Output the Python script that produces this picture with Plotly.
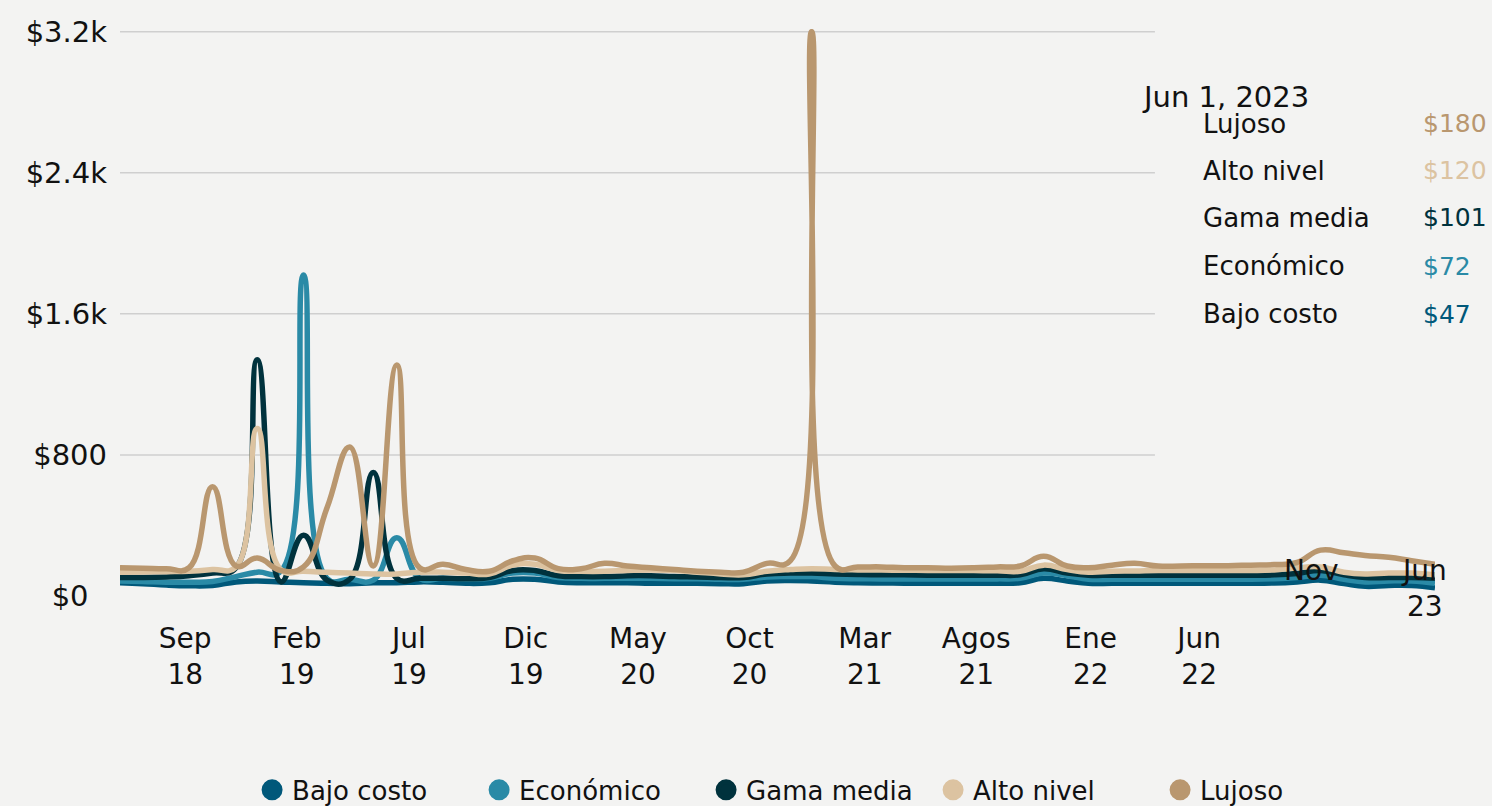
import plotly.graph_objects as go
import pandas as pd

# ---------------- data ----------------
DATES = pd.date_range("2018-09-01", periods=58, freq="MS")

NAMES = ["Bajo costo", "Económico", "Gama media", "Alto nivel", "Lujoso"]
COLORS = ["#00587a", "#2a8aa6", "#00323d", "#dcc3a1", "#b9976f"]

BAJO_COSTO = [75, 70, 62, 58, 60, 80, 85, 80, 75, 72,
              70, 75, 75, 80, 78, 72, 75, 95, 95, 80,
              75, 75, 75, 72, 72, 72, 70, 70, 85, 88,
              85, 78, 75, 74, 73, 72, 72, 72, 72, 75,
              100, 85, 72, 72, 72, 72, 72, 72, 72, 72,
              74, 80, 90, 70, 55, 60, 60, 47]
ECONOMICO = [85, 82, 78, 78, 82, 110, 135, 140, 1820, 100,
             95, 90, 330, 100, 100, 95, 100, 130, 130, 105,
             100, 100, 100, 100, 98, 98, 95, 95, 108, 110,
             110, 100, 98, 97, 96, 96, 96, 96, 97, 100,
             130, 115, 95, 95, 95, 95, 95, 95, 95, 95,
             98, 105, 118, 95, 80, 85, 85, 72]
GAMA_MEDIA = [105, 105, 108, 115, 130, 160, 1340, 80, 345, 90,
              95, 700, 100, 100, 100, 98, 105, 145, 145, 115,
              110, 110, 115, 115, 110, 108, 105, 105, 125, 130,
              130, 125, 122, 120, 120, 118, 118, 118, 118, 120,
              155, 130, 118, 118, 118, 118, 118, 118, 118, 118,
              120, 128, 145, 120, 105, 105, 105, 101]
ALTO_NIVEL = [135, 136, 138, 140, 150, 165, 950, 150, 140, 135,
              130, 125, 125, 135, 135, 130, 125, 175, 180, 145,
              140, 140, 145, 148, 145, 135, 125, 120, 140, 150,
              155, 150, 148, 147, 146, 145, 145, 144, 143, 140,
              175, 150, 135, 140, 142, 145, 145, 145, 145, 145,
              148, 160, 165, 135, 125, 130, 130, 120]
LUJOSO = [160, 158, 155, 160, 620, 170, 215, 145, 165, 500,
          845, 170, 1310, 160, 180, 150, 140, 200, 215, 155,
          155, 185, 170, 160, 150, 140, 135, 135, 185, 200,
          3200, 170, 165, 165, 160, 160, 158, 160, 165, 170,
          225, 170, 160, 175, 185, 170, 170, 172, 172, 175,
          178, 190, 260, 245, 230, 220, 200, 180]

SERIES = [BAJO_COSTO, ECONOMICO, GAMA_MEDIA, ALTO_NIVEL, LUJOSO]

Y_TICKS = [0, 800, 1600, 2400, 3200]
Y_TICK_TEXT = ["$0\u00a0\u00a0", "$800", "$1.6k", "$2.4k", "$3.2k"]

X_TICK_DATES = ["2018-11-26", "2019-04-22", "2019-09-17", "2020-02-18", "2020-07-15",
                "2020-12-09", "2021-05-10", "2021-10-04", "2022-03-04", "2022-07-25"]
X_TICK_TEXT = ["Sep<br>18", "Feb<br>19", "Jul<br>19", "Dic<br>19", "May<br>20",
               "Oct<br>20", "Mar<br>21", "Agos<br>21", "Ene<br>22", "Jun<br>22"]
X_LATE_DATES = ["2022-12-20", "2023-05-18"]
X_LATE_TEXT = ["Nov<br>22", "Jun<br>23"]

TOOLTIP_DATE = "Jun 1, 2023"

FONT = "DejaVu Sans"
BG = "#f3f3f2"

fig = go.Figure()

for name, vals, color in zip(NAMES, SERIES, COLORS):
    fig.add_trace(go.Scatter(
        x=DATES, y=vals, mode="lines", name=name, showlegend=False,
        line=dict(color=color, width=5.5, shape="spline", smoothing=1.3),
        hoverinfo="skip"))

for name, color in zip(NAMES, COLORS):
    fig.add_trace(go.Scatter(
        x=[None], y=[None], mode="markers", name=name, showlegend=True,
        marker=dict(size=16, color=color, line=dict(color=color, width=5))))

# gridlines (stop short of the tooltip panel)
shapes = []
for v in Y_TICKS[1:]:
    shapes.append(dict(type="line", xref="paper", yref="y", x0=0, x1=0.787,
                       y0=v, y1=v, line=dict(color="#cfcfcf", width=1.5), layer="below"))

annotations = []
for d, t in zip(X_LATE_DATES, X_LATE_TEXT):
    annotations.append(dict(x=d, xref="x", y=0.013, yref="paper", text=t,
                            showarrow=False, xanchor="center", yanchor="middle",
                            font=dict(family=FONT, size=28, color="#111111")))

# static tooltip panel
annotations.append(dict(x=0.7757, xref="paper", y=0.880, yref="paper", text=TOOLTIP_DATE,
                        showarrow=False, xanchor="left", yanchor="middle",
                        font=dict(family=FONT, size=29, color="#111111")))
row_y = [0.8325, 0.7496, 0.6667, 0.582, 0.497]
order = list(range(len(NAMES)))[::-1]
for yy, idx in zip(row_y, order):
    annotations.append(dict(x=0.822, xref="paper", y=yy, yref="paper", text=NAMES[idx],
                            showarrow=False, xanchor="left", yanchor="middle",
                            font=dict(family=FONT, size=26, color="#111111")))
    annotations.append(dict(x=0.989, xref="paper", y=yy, yref="paper",
                            text=f"${SERIES[idx][-1]:.0f}",
                            showarrow=False, xanchor="left", yanchor="middle",
                            font=dict(family=FONT, size=25, color=COLORS[idx])))

fig.update_layout(
    width=1492, height=806,
    margin=dict(l=120, r=57, t=29, b=210, autoexpand=False),
    paper_bgcolor=BG, plot_bgcolor=BG,
    font=dict(family=FONT, color="#111111"),
    hovermode=False,
    showlegend=True,
    legend=dict(orientation="h", x=0.532, xanchor="center", y=-0.342, yanchor="middle",
                font=dict(family=FONT, size=26, color="#111111"),
                bgcolor="rgba(0,0,0,0)", entrywidth=182, entrywidthmode="pixels"),
    shapes=shapes,
    annotations=annotations,
)

fig.update_xaxes(
    range=[DATES[0], DATES[-1]], showgrid=False, zeroline=False, showline=False,
    tickmode="array", tickvals=X_TICK_DATES, ticktext=X_TICK_TEXT, ticks="",
    tickfont=dict(family=FONT, size=28, color="#111111"), ticklabelstandoff=23)

fig.update_yaxes(
    range=[0, 3215], showgrid=False, zeroline=False, showline=False,
    tickmode="array", tickvals=Y_TICKS, ticktext=Y_TICK_TEXT, ticks="",
    tickfont=dict(family=FONT, size=29, color="#111111"), ticklabelstandoff=12)

fig.write_html(
    "out.html",
    config={"displayModeBar": False},
    post_script="document.body.style.margin='0';document.body.style.background='" + BG + "';",
)
